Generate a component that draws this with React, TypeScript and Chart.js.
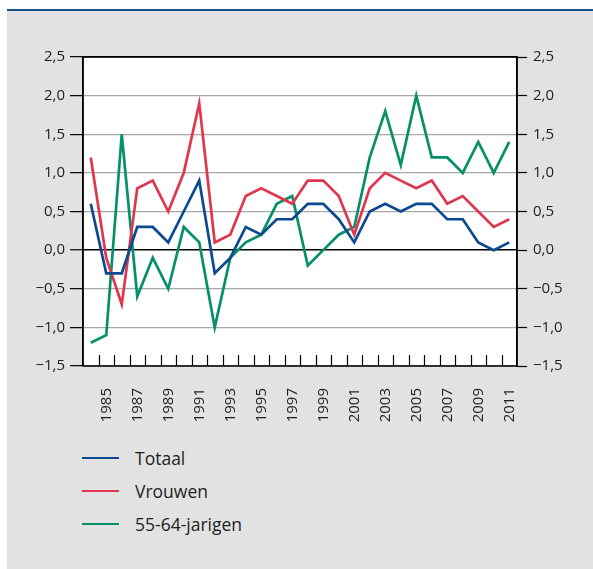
import React, { useEffect, useRef } from "react";
import { Chart, registerables } from "chart.js";

Chart.register(...registerables);

const years = [
  "1984", "1985", "1986", "1987", "1988", "1989", "1990", "1991", "1992", "1993",
  "1994", "1995", "1996", "1997", "1998", "1999", "2000", "2001", "2002", "2003",
  "2004", "2005", "2006", "2007", "2008", "2009", "2010", "2011",
];

const totaal = [
  0.6, -0.3, -0.3, 0.3, 0.3, 0.1, 0.5, 0.9, -0.3, -0.1,
  0.3, 0.2, 0.4, 0.4, 0.6, 0.6, 0.4, 0.1, 0.5, 0.6,
  0.5, 0.6, 0.6, 0.4, 0.4, 0.1, 0.0, 0.1,
];

const vrouwen = [
  1.2, -0.1, -0.7, 0.8, 0.9, 0.5, 1.0, 1.9, 0.1, 0.2,
  0.7, 0.8, 0.7, 0.6, 0.9, 0.9, 0.7, 0.2, 0.8, 1.0,
  0.9, 0.8, 0.9, 0.6, 0.7, 0.5, 0.3, 0.4,
];

const jarigen5564 = [
  -1.2, -1.1, 1.5, -0.6, -0.1, -0.5, 0.3, 0.1, -1.0, -0.1,
  0.1, 0.2, 0.6, 0.7, -0.2, 0.0, 0.2, 0.3, 1.2, 1.8,
  1.1, 2.0, 1.2, 1.2, 1.0, 1.4, 1.0, 1.4,
];

const seriesNames = ["Totaal", "Vrouwen", "55-64-jarigen"];
const seriesColors = ["#0b4a8f", "#e0364f", "#06906a"];

const yMin = -1.5;
const yMax = 2.5;
const yStep = 0.5;

const FONT = "'Open Sans', 'DejaVu Sans', sans-serif";
const TEXT = "#1e1e1e";

const fmt = (v: number) =>
  (v < 0 ? "\u2212" : "") + Math.abs(v).toFixed(1).replace(".", ",");

const framePlugin = {
  id: "frame",
  beforeDraw(chart: any) {
    const { ctx, chartArea: a } = chart;
    ctx.save();
    ctx.fillStyle = "#ffffff";
    ctx.fillRect(a.left, a.top, a.right - a.left, a.bottom - a.top);
    ctx.restore();
  },
  afterDraw(chart: any) {
    const { ctx, chartArea: a } = chart;
    const n = years.length;
    const w = (a.right - a.left) / n;
    ctx.save();
    ctx.strokeStyle = "#000";
    ctx.lineWidth = 1.2;
    for (let i = 1; i < n; i++) {
      const x = Math.round(a.left + i * w) + 0.5;
      ctx.beginPath();
      ctx.moveTo(x, a.bottom);
      ctx.lineTo(x, a.bottom - 11);
      ctx.stroke();
    }
    ctx.lineWidth = 1.5;
    ctx.strokeRect(a.left, a.top, a.right - a.left, a.bottom - a.top);
    ctx.restore();
  },
};

export default function App() {
  const ref = useRef<HTMLCanvasElement>(null);

  useEffect(() => {
    if (!ref.current) return;
    const datas = [totaal, vrouwen, jarigen5564];
    const chart = new Chart(ref.current, {
      type: "line",
      data: {
        labels: years,
        datasets: datas.map((d, i) => ({
          label: seriesNames[i],
          data: d,
          borderColor: seriesColors[i],
          backgroundColor: seriesColors[i],
          borderWidth: 2.7,
          pointRadius: 0,
          tension: 0,
          yAxisID: "y",
        })),
      },
      options: {
        animation: false,
        responsive: false,
        layout: { padding: { top: 57, left: 0, right: 0, bottom: 0 } },
        plugins: {
          legend: { display: false },
          tooltip: { enabled: false },
        },
        scales: {
          x: {
            type: "category",
            offset: true,
            grid: { display: false, offset: true },
            border: { display: false },
            ticks: {
              autoSkip: false,
              maxRotation: 90,
              minRotation: 90,
              padding: 14,
              color: TEXT,
              font: { family: FONT, size: 15 },
              callback: (_v: any, i: number) =>
                parseInt(years[i], 10) % 2 === 1 ? years[i] : "",
            },
            afterFit: (s: any) => {
              s.height = 64;
            },
          },
          y: {
            position: "left",
            min: yMin,
            max: yMax,
            grid: {
              color: (c: any) =>
                c.tick && (c.tick.value === 0 || c.tick.value === yMax)
                  ? "#000"
                  : "#a8a8a8",
              lineWidth: (c: any) =>
                c.tick && c.tick.value === 0 ? 1.5 : 1.3,
              tickColor: "#000",
              tickLength: 13,
              tickWidth: 1.2,
            },
            border: { display: true, color: "#000", width: 1.5 },
            ticks: {
              stepSize: yStep,
              padding: 5,
              color: TEXT,
              font: { family: FONT, size: 15 },
              callback: (v: any) => fmt(Number(v)),
            },
            afterFit: (s: any) => {
              s.width = 83;
            },
          },
          y2: {
            position: "right",
            min: yMin,
            max: yMax,
            grid: {
              drawOnChartArea: false,
              tickColor: "#000",
              tickLength: 10,
              tickWidth: 1.2,
            },
            border: { display: true, color: "#000", width: 1.5 },
            ticks: {
              stepSize: yStep,
              padding: 6,
              color: TEXT,
              font: { family: FONT, size: 15 },
              callback: (v: any) => fmt(Number(v)),
            },
            afterFit: (s: any) => {
              s.width = 76;
            },
          },
        },
      },
      plugins: [framePlugin],
    } as any);
    return () => chart.destroy();
  }, []);

  const legendTop = [458, 491, 524];

  return (
    <div>
      <div
        style={{
          position: "absolute",
          left: 7,
          top: 9,
          width: 586,
          height: 560,
          boxSizing: "border-box",
          background: "#e2e2e2",
          borderTop: "2px solid #1c4f8d",
        }}
      />
      <canvas
        ref={ref}
        width={593}
        height={430}
        style={{ position: "absolute", left: 0, top: 0, width: 593, height: 430 }}
      />
      {seriesNames.map((name, i) => (
        <div
          key={name}
          style={{
            position: "absolute",
            left: 82,
            top: legendTop[i] - 15,
            height: 30,
            display: "flex",
            alignItems: "center",
            fontFamily: FONT,
            fontSize: 17.5,
            color: TEXT,
            whiteSpace: "nowrap",
          }}
        >
          <span
            style={{
              display: "inline-block",
              width: 37,
              height: 2.5,
              background: seriesColors[i],
              marginRight: 16,
            }}
          />
          <span>{name}</span>
        </div>
      ))}
    </div>
  );
}
